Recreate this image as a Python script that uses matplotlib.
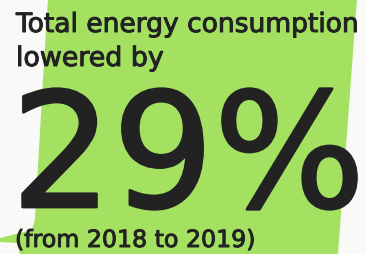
import matplotlib
matplotlib.use('Agg')
import matplotlib.pyplot as plt
import matplotlib.patheffects as pe
from matplotlib.patches import Polygon

# Texto del infografico
headline = ['Total energy consumption', 'lowered by']
value = 29
year_from = 2018
year_to = 2019

W, H = 366, 255
fig = plt.figure(figsize=(W / 100, H / 100), dpi=100)
ax = fig.add_axes([0, 0, 1, 1])
ax.set_xlim(0, W)
ax.set_ylim(H, 0)
ax.axis('off')
fig.patch.set_facecolor('#f9f9f7')

# Forma verde de fondo (decorativa)
shape = [(48, 0), (357, 0), (338, 255), (20, 255), (17, 244), (0, 243), (0, 239),
         (32, 231), (35, 220), (43, 80)]
ax.add_patch(Polygon(shape, closed=True, facecolor='#a4e161', edgecolor='none'))

renderer = fig.canvas.get_renderer()


def fit_text(s, left, right, baseline, size, thick):
    t = ax.text(left, baseline, s, ha='left', va='baseline', fontsize=size,
                color='#222222', family=['DejaVu Sans'],
                path_effects=[pe.withStroke(linewidth=thick, foreground='#222222')])
    bb = t.get_window_extent(renderer)
    t.set_fontsize(size * (right - left) / bb.width)
    bb = t.get_window_extent(renderer)
    t.set_x(left - (bb.x0 - left))
    return t


fit_text(headline[0], 16, 359, 33, 18, 0.7)
fit_text(headline[1], 16, 164, 67, 18, 0.7)
fit_text(f'{value}%', 11, 365, 208, 100, 2.0)
fit_text(f'(from {year_from} to {year_to})', 15, 256, 248, 14, 0.7)

fig.savefig('out.png', dpi=100, facecolor=fig.get_facecolor())
